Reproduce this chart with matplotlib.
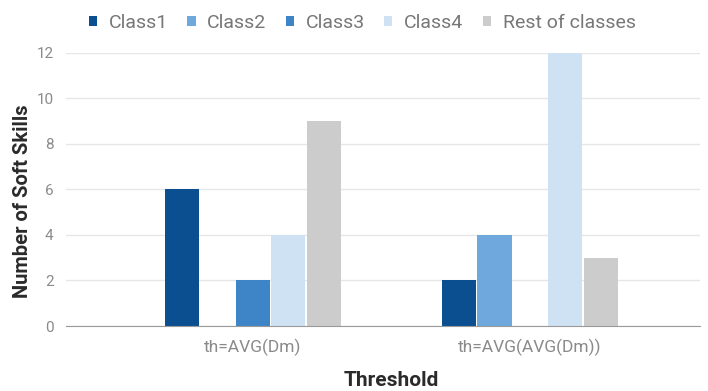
import matplotlib.pyplot as plt
import numpy as np

plt.rcParams['font.family'] = ['Roboto', 'DejaVu Sans']

thresholds = ['th=AVG(Dm)', 'th=AVG(AVG(Dm))']
classes = ['Class1', 'Class2', 'Class3', 'Class4', 'Rest of classes']
counts = {
    'Class1': [6, 2],
    'Class2': [0, 4],
    'Class3': [2, 0],
    'Class4': [4, 12],
    'Rest of classes': [9, 3],
}
colors = ['#0b4f91', '#6fa8dc', '#3d85c6', '#cfe2f3', '#cccccc']

fig = plt.figure(figsize=(7.08, 3.91), dpi=100)
ax = fig.add_axes([66 / 708, 65 / 391, 634 / 708, 273.5 / 391])

x = np.arange(len(thresholds))
w = 0.128
for i, (name, col) in enumerate(zip(classes, colors)):
    ax.bar(x + (i - 2) * w, counts[name], w * 0.96, color=col, label=name, zorder=3)

ax.set_xlim(-0.675, 1.614)
ax.set_ylim(0, 12)
ax.set_yticks(range(0, 13, 2))
ax.set_xticks(x)
ax.set_xticklabels(thresholds)
ax.yaxis.grid(True, color='#e6e6e6', linewidth=1, zorder=0)
ax.tick_params(axis='both', length=0, labelcolor='#8a8a8a')
ax.tick_params(axis='x', pad=9, labelsize=12.5)
ax.tick_params(axis='y', pad=9, labelsize=11)
for s in ['top', 'right', 'left']:
    ax.spines[s].set_visible(False)
ax.spines['bottom'].set_color('#9a9a9a')
ax.spines['bottom'].set_zorder(4)

ax.set_xlabel('Threshold', fontsize=15, fontweight='bold', color='#2a2a2a')
ax.xaxis.set_label_coords(0.513, -0.2)
ax.xaxis.label.set_va('center')
ax.set_ylabel('Number of Soft Skills', fontsize=14.5, fontweight='bold', color='#2a2a2a')
ax.yaxis.set_label_coords(-0.068, 0.455)
ax.yaxis.label.set_va('center')

ax.legend(loc='center left', bbox_to_anchor=(0.036, 1.108), ncol=5, frameon=False,
          fontsize=14, handlelength=0.42, handleheight=0.42, handletextpad=0.6,
          columnspacing=1.0, labelcolor='#777777', borderaxespad=0, borderpad=0)

fig.savefig('out.png', dpi=100)
